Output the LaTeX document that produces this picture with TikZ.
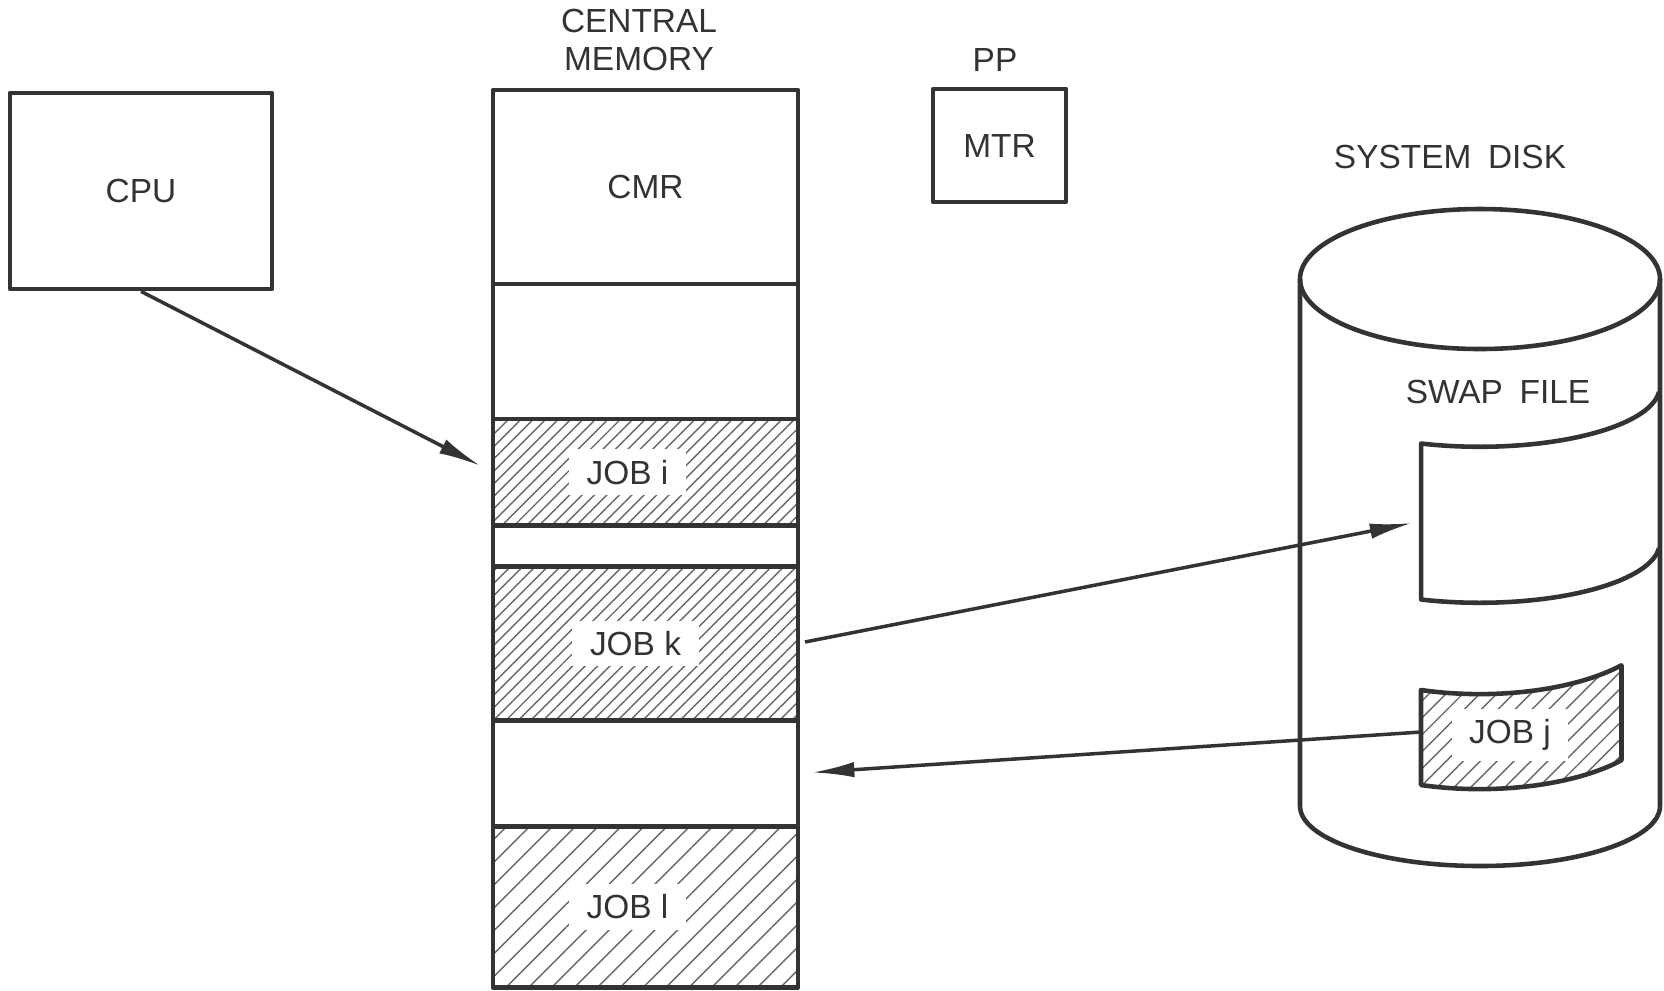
\documentclass[tikz,border=0pt]{standalone}
\usepackage{fontspec}
\setmainfont{Liberation Sans}
\usetikzlibrary{positioning,arrows.meta,patterns.meta}

\tikzset{
  ink/.style={draw=black!80, line width=1.3pt, line join=round},
  seg/.style={ink, minimum width=3.05cm, outer sep=0pt, inner sep=0pt},
  hatch/.style={pattern={Lines[angle=45,distance=#1,line width=0.4pt]}, pattern color=black!60},
  hatch/.default=2.5pt,
  tag/.style={fill=white, inner xsep=5pt, inner ysep=3pt},
  flow/.style={draw=black!80, line width=1pt, -{Latex[length=12pt,width=4.4pt]}},
}

\begin{document}
\begin{tikzpicture}[x=0.01cm, y=-0.01cm, font=\fontsize{9.5}{11}\selectfont, text=black!80]
  \useasboundingbox (0,0) rectangle (1664,990);
  % processor
  \node[ink, minimum width=2.62cm, minimum height=1.96cm] (cpu) at (141,191) {CPU};
  % central memory column
  \node[align=center] (cmtitle) at (639,40) {CENTRAL\\MEMORY};
  \node[seg, minimum height=1.94cm, anchor=north] (cmr) at (645.5,90) {CMR};
  \node[seg, minimum height=1.35cm, below=0pt of cmr] (free1) {};
  \node[seg, hatch, minimum height=1.06cm, below=0pt of free1] (jobi) {};
  \node[seg, minimum height=0.41cm, below=0pt of jobi] (free2) {};
  \node[seg, hatch, minimum height=1.54cm, below=0pt of free2] (jobk) {};
  \node[seg, minimum height=1.06cm, below=0pt of jobk] (free3) {};
  \node[seg, hatch=4.6pt, minimum height=1.61cm, below=0pt of free3] (jobl) {};
  \node[tag] at ([xshift=-0.18cm]jobi) {JOB i};
  \node[tag] at ([xshift=-0.1cm]jobk) {JOB k};
  \node[tag] at ([xshift=-0.18cm]jobl) {JOB l};
  % peripheral processor
  \node[ink, minimum width=1.33cm, minimum height=1.13cm] (mtr) at (999.5,145.5) {MTR};
  \node (pp) at (995,60) {PP};
  % system disk
  \node (disk) at (1450,157) {SYSTEM\enspace DISK};
  \draw[ink] (1480,279) ellipse[x radius=180, y radius=70];
  \draw[ink] (1300,279) -- (1300,806) arc[start angle=180, end angle=0, x radius=180, y radius=60] -- (1660,279);
  \node (swap) at (1498,392) {SWAP\enspace FILE};
  \draw[ink] (1659,392) arc[start angle=5, end angle=109, x radius=180, y radius=60] -- ++(0,156)
    arc[start angle=109, end angle=5, x radius=180, y radius=60];
  \draw[ink, hatch=3.4pt] (1421,690) arc[start angle=109, end angle=38, x radius=180, y radius=75] -- ++(0,95)
    arc[start angle=38, end angle=109, x radius=180, y radius=75] -- cycle;
  \node[tag] (jobj) at (1510,735) {JOB j};
  \coordinate (swapin) at (1412,523);
  \coordinate (jobjout) at (1421,732);
  % transfers
  \draw[flow, shorten >=4pt] (cpu.south) -- (jobi.west);
  \draw[flow, shorten <=2pt] (jobk.east) -- (swapin);
  \draw[flow, shorten >=4pt] (jobjout) -- (free3.east);
\end{tikzpicture}
\end{document}
